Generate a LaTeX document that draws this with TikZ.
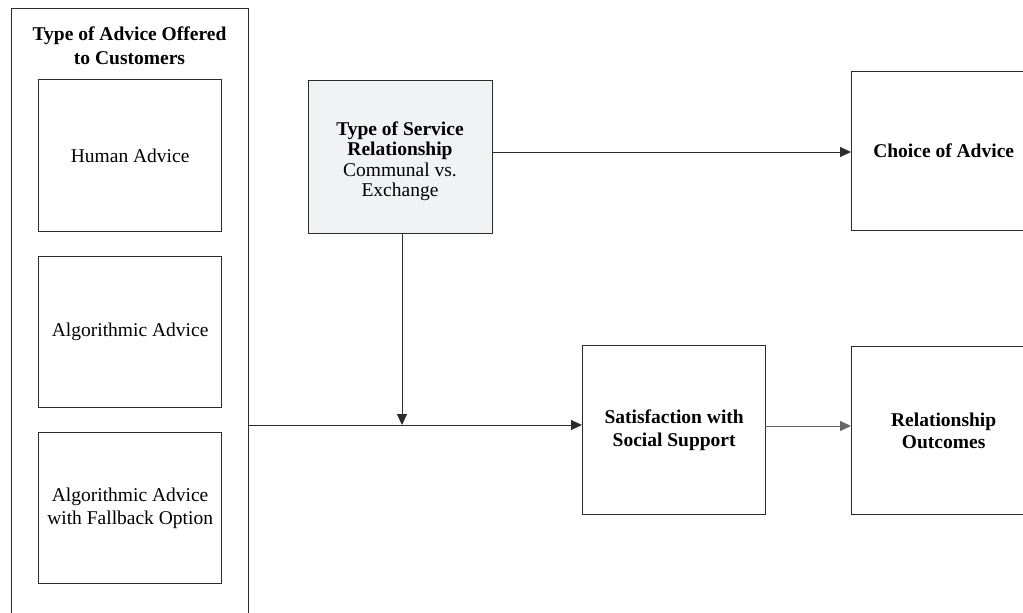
\documentclass[tikz,border=0pt]{standalone}
\usepackage{fontspec}
\setmainfont{Liberation Serif}
\usetikzlibrary{arrows.meta}
\definecolor{edge}{HTML}{2B2B2B}
\definecolor{shade}{HTML}{F1F2F3}
\tikzset{
  box/.style={draw=edge, line width=1.3pt, minimum width=#1, inner sep=0pt, align=center, font=\fontsize{19.5}{23}\selectfont},
  box/.default=184pt,
  conn/.style={draw=edge, line width=0.9pt, -{Triangle[length=11pt,width=10pt]}},
}
\begin{document}
\begin{tikzpicture}[x=1pt,y=-1pt]
\clip (0,0) rectangle (1023,613);
% outer container
\node[box=237pt, minimum height=620pt, anchor=north west] (outer) at (11,8) {};
\node[font=\fontsize{19.5}{24}\selectfont\bfseries, align=center, anchor=center] (title) at (129.5,46) {Type of Advice Offered\\to Customers};
% inner boxes
\node[box=183pt, minimum height=152pt, anchor=north west] (human) at (38,79) {Human Advice};
\node[box=183pt, minimum height=151pt, anchor=north west] (algo) at (38,256) {Algorithmic Advice};
\node[box=183pt, minimum height=151pt, anchor=north west] (fallback) at (38,432) {Algorithmic Advice\\with Fallback Option};
% service relationship
\node[box=184pt, minimum height=153pt, fill=shade, anchor=north west] (service) at (308,80) {};
\node[align=center, font=\fontsize{19.5}{20.5}\selectfont] (servicetext) at (400,161) {\textbf{Type of Service}\\\textbf{Relationship}\\Communal vs.\\Exchange};
% choice
\node[box=184pt, minimum height=159pt, anchor=north west] (choice) at (851,71) {\textbf{Choice of Advice}};
% satisfaction
\node[box=183pt, minimum height=169pt, anchor=north west] (satis) at (582,345) {\textbf{Satisfaction with}\\\textbf{Social Support}};
% outcomes
\node[box=184pt, minimum height=168pt, anchor=north west, font=\fontsize{19.5}{22}\selectfont] (outcomes) at (851,346) {\textbf{Relationship}\\\textbf{Outcomes}};
% connectors
\coordinate (m) at (402,425);
\coordinate (s) at (402,233);
\coordinate (r) at (492,152);
\draw[conn] (r) -- (choice.west |- r);
\draw[conn] (s) -- (m);
\draw[conn] (outer.east |- m) -- (satis.west |- m);
\coordinate (q) at (765,426);
\draw[conn, draw=gray!80!black] (q) -- (outcomes.west |- q);
\end{tikzpicture}
\end{document}
